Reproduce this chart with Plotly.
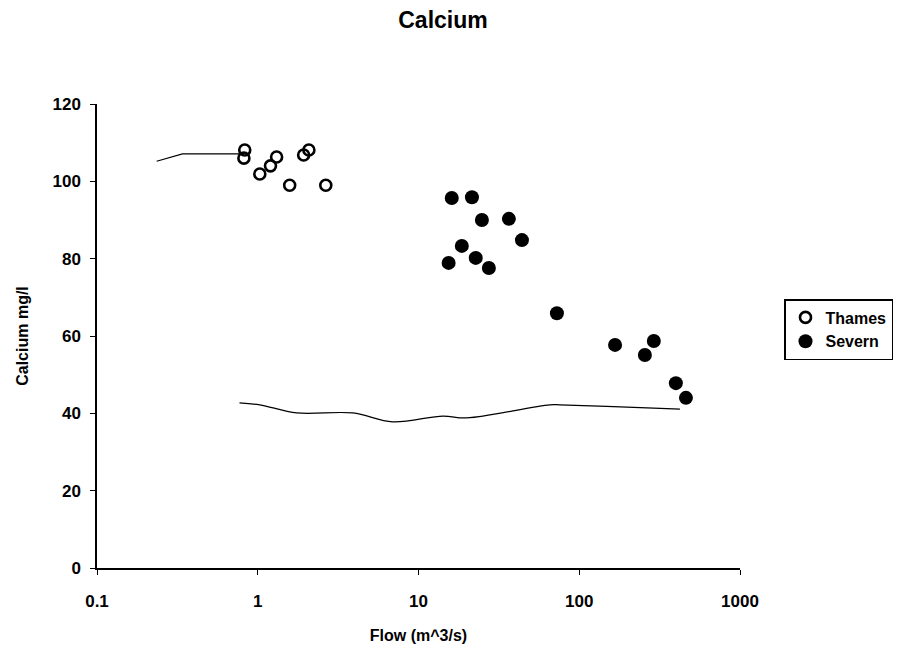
import plotly.graph_objects as go

thames_flow = [0.83, 0.82, 1.03, 1.2, 1.31, 1.58, 1.93, 2.08, 2.65]
thames_ca = [108.1, 106.0, 101.9, 104.0, 106.3, 99.0, 106.8, 108.1, 99.0]

severn_flow = [16.1, 21.5, 24.8, 36.5, 44.0, 18.6, 22.7, 15.4, 27.4, 72.6, 167, 256, 291, 399, 461]
severn_ca = [95.7, 95.9, 90.0, 90.3, 84.8, 83.3, 80.2, 78.9, 77.6, 65.9, 57.7, 55.1, 58.7, 47.8, 44.0]

upper_line_flow = [0.235, 0.34, 0.70, 0.80]
upper_line_ca = [105.2, 107.1, 107.1, 107.1]

lower_line_flow = [0.77, 1.03, 1.75, 3.9, 6.9, 14.2, 18.9, 25.1, 65.6, 75.7, 264, 423]
lower_line_ca = [42.7, 42.2, 40.1, 40.1, 37.8, 39.3, 38.8, 39.3, 42.2, 42.2, 41.4, 41.1]

x_tick_vals = [0.1, 1, 10, 100, 1000]
x_tick_text = ["0.1", "1", "10", "100", "1000"]
y_tick_vals = [0, 20, 40, 60, 80, 100, 120]

font_family = "Liberation Sans, Arial, Helvetica, sans-serif"

# page body has an 8px margin; plot area in screenshot: x 97..740, y 104..568
L, T, PW, PH = 97 - 8, 104 - 8, 643, 464
W, H = 901, 661

fig = go.Figure()
fig.add_trace(go.Scatter(x=upper_line_flow, y=upper_line_ca, mode="lines",
                         line=dict(color="black", width=1.2), showlegend=False, hoverinfo="skip"))
fig.add_trace(go.Scatter(x=lower_line_flow, y=lower_line_ca, mode="lines",
                         line=dict(color="black", width=1.2, shape="spline"), showlegend=False, hoverinfo="skip"))
fig.add_trace(go.Scatter(x=thames_flow, y=thames_ca, mode="markers", name="Thames",
                         marker=dict(symbol="circle-open", size=11, color="black", line=dict(width=2.6))))
fig.add_trace(go.Scatter(x=severn_flow, y=severn_ca, mode="markers", name="Severn",
                         marker=dict(symbol="circle", size=14, color="black")))

fig.update_layout(
    width=W, height=H,
    paper_bgcolor="white", plot_bgcolor="white",
    margin=dict(l=L, r=W - L - PW, t=T, b=H - T - PH, autoexpand=False),
    font=dict(family=font_family, color="black", size=14),
    title=dict(text="<b>Calcium</b>", x=(443 - 8) / W, xanchor="center", y=1 - 12 / H, yanchor="middle",
               font=dict(size=23, family=font_family)),
    xaxis=dict(type="log", range=[-1, 3], tickvals=x_tick_vals, ticktext=x_tick_text,
               showline=True, linecolor="black", linewidth=1.5, ticks="outside", ticklen=5,
               tickcolor="black", showgrid=False, zeroline=False, ticklabelstandoff=12,
               tickfont=dict(size=17, weight="bold"),
               title=dict(text="<b>Flow (m^3/s)</b>", font=dict(size=16), standoff=20)),
    yaxis=dict(range=[0, 120], tickvals=y_tick_vals,
               showline=True, linecolor="black", linewidth=1.5, ticks="outside", ticklen=5,
               tickcolor="black", showgrid=False, zeroline=False, ticklabelstandoff=6,
               tickfont=dict(size=17, weight="bold"),
               title=dict(text="<b>Calcium mg/l</b>", font=dict(size=16), standoff=20)),
    legend=dict(x=(784 - 97) / PW, y=(568 - 299) / PH, xanchor="left", yanchor="top",
                bordercolor="black", borderwidth=1.5, bgcolor="white",
                font=dict(size=16, weight="bold"), itemwidth=30, tracegroupgap=0),
)

fig.write_html("out.html")
